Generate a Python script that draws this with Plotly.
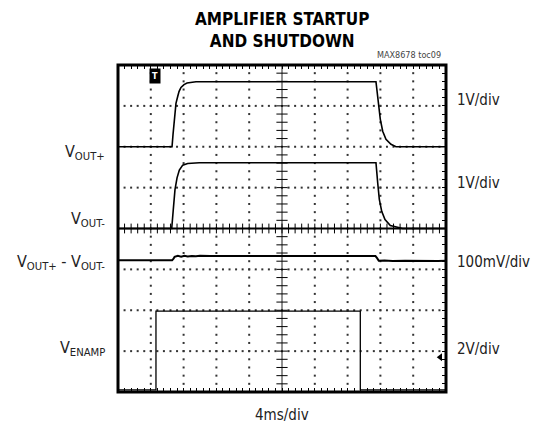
import numpy as np
import plotly.graph_objects as go

# ---------------- data ----------------
# time in ms, 4 ms/div, 10 div
vp_t = [0, 6.59, 6.71, 6.83, 6.95, 7.07, 7.28, 7.44, 7.68, 8.05, 8.42, 8.90, 9.51,
        31.46, 31.74, 31.99, 32.28, 32.68, 33.29, 33.90, 40]
vp_v = [0, 0, 0.30, 0.62, 0.86, 1.06, 1.23, 1.35, 1.45, 1.52, 1.56, 1.58, 1.59,
        1.59, 1.08, 0.67, 0.38, 0.18, 0.06, 0, 0]           # VOUT+ (V)

vm_t = [0, 6.55, 6.74, 6.95, 7.20, 7.48, 7.89, 8.50, 9.91,
        31.46, 31.67, 31.87, 32.16, 32.56, 33.21, 34.11, 34.72, 40]
vm_v = [0, 0, 0.46, 0.95, 1.24, 1.43, 1.55, 1.59, 1.61,
        1.61, 1.12, 0.71, 0.42, 0.22, 0.07, 0.02, 0, 0]      # VOUT- (V)

df_t = [0, 2.0, 3.8, 4.4, 6.6, 6.75, 6.9, 7.3, 7.7, 8.1, 8.5, 9.0, 9.5, 10.0, 10.6,
        11.2, 14, 17, 20, 23, 26, 29, 31.4, 31.6, 31.8, 32.5, 33.5, 35, 36.5, 38, 39, 40]
df_v = [0, 0.3, 0.8, 0, 0, 3, 8, 10.5, 8.5, 11, 9, 10.5, 9.5, 10.8, 9.5,
        10, 10, 10.3, 9.8, 10, 10.2, 9.9, 10, 5, -1.5, -1, -2, -1.5, -2.3, -1.6, -2, -1.5]  # mV

en_t = [0, 4.63, 4.63, 29.55, 29.55, 40]
en_v = [0, 0, 3.86, 3.86, 0, 0]                              # VENAMP (V)

# channel settings: (volts per div, offset in div)
ch_scale = {"vp": 1.0, "vm": 1.0, "df": 100.0, "en": 2.0}
ch_off = {"vp": 2.0, "vm": 0.0, "df": -0.775, "en": -3.95}

left_labels = ["V<sub>OUT+</sub>", "V<sub>OUT-</sub>", "V<sub>OUT+</sub> - V<sub>OUT-</sub>", "V<sub>ENAMP</sub>"]
left_y = [1.86, 0.22, -0.83, -2.93]
right_labels = ["1V/div", "1V/div", "100mV/div", "2V/div"]
right_y = [3.14, 1.12, -0.83, -2.96]

FONT = "Liberation Sans Narrow, Arial Narrow, DejaVu Sans Condensed, sans-serif"

fig = go.Figure()

# ---------------- graticule ----------------
gx, gy = [], []
for k in range(1, 10):
    if k == 5:
        continue
    ys = np.arange(-4, 4.001, 0.2)
    gx += [4 * k] * len(ys)
    gy += list(ys)
for j in range(-3, 4):
    if j == 0:
        continue
    xs = np.arange(0, 40.001, 0.8)
    gx += list(xs)
    gy += [j] * len(xs)
fig.add_trace(go.Scatter(x=gx, y=gy, mode="markers",
                         marker=dict(symbol="square", size=2, color="#333", line=dict(width=0)),
                         hoverinfo="skip", showlegend=False))

# center lines
fig.add_trace(go.Scatter(x=[0, 40], y=[0, 0], mode="lines", line=dict(color="black", width=2),
                         hoverinfo="skip", showlegend=False))
fig.add_trace(go.Scatter(x=[20, 20], y=[-4, 4], mode="lines", line=dict(color="#222", width=1),
                         hoverinfo="skip", showlegend=False))
cx = np.arange(0, 40.001, 0.8)
fig.add_trace(go.Scatter(x=cx, y=[0] * len(cx), mode="markers",
                         marker=dict(symbol="line-ns", size=7, line=dict(width=1, color="black")),
                         hoverinfo="skip", showlegend=False))
cy = np.arange(-4, 4.001, 0.2)
fig.add_trace(go.Scatter(x=[20] * len(cy), y=cy, mode="markers",
                         marker=dict(symbol="line-ew", size=8, line=dict(width=1, color="black")),
                         hoverinfo="skip", showlegend=False))

# ---------------- traces ----------------
def add_ch(t, v, key, w=1.6):
    y = [val / ch_scale[key] + ch_off[key] for val in v]
    fig.add_trace(go.Scatter(x=t, y=y, mode="lines", line=dict(color="black", width=w),
                             hoverinfo="skip", showlegend=False))

add_ch(vp_t, vp_v, "vp")
add_ch(vm_t, vm_v, "vm")
add_ch(df_t, df_v, "df", w=2)
add_ch(en_t, en_v, "en", w=1.3)

# ground marker arrow on right
fig.add_trace(go.Scatter(x=[39.3], y=[-3.15], mode="markers",
                         marker=dict(symbol="triangle-left", size=7, color="black"),
                         hoverinfo="skip", showlegend=False))

ann = []
for txt, yy in zip(left_labels, left_y):
    ann.append(dict(x=0, xref="paper", xshift=-11, y=yy, yref="y", text=txt, showarrow=False,
                    xanchor="right", yanchor="middle", font=dict(family=FONT, size=16, color="#222")))
for txt, yy in zip(right_labels, right_y):
    ann.append(dict(x=1, xref="paper", xshift=9, y=yy, yref="y", text=txt, showarrow=False,
                    xanchor="left", yanchor="middle", font=dict(family=FONT, size=15, color="#222")))
ann.append(dict(x=0.5, xref="paper", y=1, yref="paper", yshift=12, text="<b>AMPLIFIER STARTUP<br>AND SHUTDOWN</b>",
                showarrow=False, xanchor="center", yanchor="bottom",
                font=dict(family=FONT, size=17, color="black")))
ann.append(dict(x=1, xref="paper", xshift=-3, y=1, yref="paper", yshift=3, text="MAX8678 toc09",
                showarrow=False, xanchor="right", yanchor="bottom",
                font=dict(family=FONT, size=9, color="#444")))
ann.append(dict(x=0.5, xref="paper", y=0, yref="paper", yshift=-12, text="4ms/div", showarrow=False,
                xanchor="center", yanchor="top", font=dict(family=FONT, size=15, color="#222")))
ann.append(dict(x=4.5, xref="x", y=1, yref="paper", yshift=-3, text="<b>T</b>", showarrow=False,
                xanchor="center", yanchor="top", bgcolor="black", borderpad=2,
                font=dict(family=FONT, size=9, color="white")))

# page body adds an 8px margin, so the figure is 8px smaller and shifted
fig.update_layout(
    width=533, height=417,
    margin=dict(l=110, r=95, t=57, b=33),
    paper_bgcolor="white", plot_bgcolor="white",
    annotations=ann,
    shapes=[dict(type="rect", xref="paper", yref="paper", x0=0, x1=1, y0=0, y1=1,
                 line=dict(color="black", width=3), layer="above")],
    xaxis=dict(range=[0, 40], showgrid=False, zeroline=False, showticklabels=False,
               ticks="inside", ticklen=4, tickwidth=1, tickcolor="black", dtick=0.8, tick0=0,
               mirror="ticks", showline=False),
    yaxis=dict(range=[-4, 4], showgrid=False, zeroline=False, showticklabels=False, side="right",
               ticks="inside", ticklen=4, tickwidth=1, tickcolor="black", dtick=0.2, tick0=0,
               showline=False),
)

fig.write_html("out.html")
